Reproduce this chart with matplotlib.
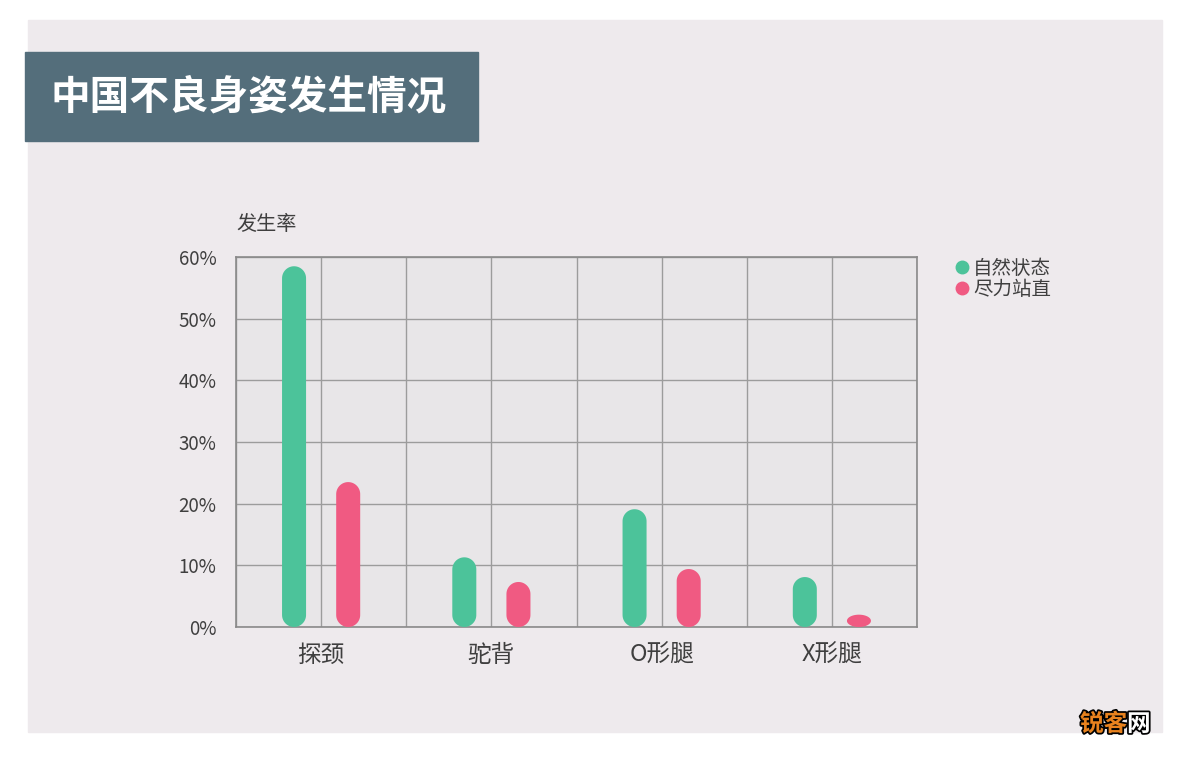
import matplotlib.pyplot as plt
import matplotlib.patheffects as pe
from matplotlib.patches import Rectangle, Polygon
from matplotlib.lines import Line2D
import numpy as np

plt.rcParams['font.family'] = ['Noto Sans CJK SC', 'DejaVu Sans']

# data
categories = ["探颈", "驼背", "O形腿", "X形腿"]
natural = [58.5, 11.3, 19.1, 8.1]      # 自然状态
standing = [23.5, 7.3, 9.4, 2.0]       # 尽力站直
series_names = ["自然状态", "尽力站直"]
y_ticks = [0, 10, 20, 30, 40, 50, 60]

green = "#4cc39a"
pink = "#f05a82"
txt = "#3f3f3f"

W, H = 1200, 757
fig = plt.figure(figsize=(W / 100, H / 100), dpi=100)
fig.patch.set_facecolor("white")

# light panel and title box (pixel coords -> figure coords)
def px(x0, y0, x1, y1):
    return (x0 / W, 1 - y1 / H), (x1 - x0) / W, (y1 - y0) / H

xy, w, h = px(28, 20, 1162, 732)
fig.patches.append(Rectangle(xy, w, h, transform=fig.transFigure, color="#eeeaed", zorder=0))
xy, w, h = px(25, 52, 478, 141)
fig.patches.append(Rectangle(xy, w, h, transform=fig.transFigure, color="#546e7b", zorder=1))
fig.text(50 / W, 1 - 97 / H, "中国不良身姿发生情况", color="white", fontsize=28.5,
         fontweight="heavy", va="center", ha="left", zorder=3)

# plot area
ax_l, ax_t, ax_r, ax_b = 236, 257, 917, 627
ax = fig.add_axes([ax_l / W, 1 - ax_b / H, (ax_r - ax_l) / W, (ax_b - ax_t) / H])
ax.set_zorder(5)
ax.set_facecolor("#e8e6e8")
ax.set_xlim(-0.5, len(categories) - 0.5)
ax.set_ylim(0, 60)

x = np.arange(len(categories))
ax.set_xticks(x)
ax.set_xticklabels(categories, fontsize=17, color=txt, fontweight="medium")
ax.set_xticks(np.arange(-0.5, len(categories), 1.0), minor=True)
ax.set_yticks(y_ticks)
ax.set_yticklabels(["{}%".format(v) for v in y_ticks], fontsize=13.5, color=txt,
                   fontweight="medium")
ax.tick_params(axis="both", which="both", length=0)
ax.tick_params(axis="x", pad=12)
ax.tick_params(axis="y", pad=14)
ax.grid(True, which="both", color="#9c9c9c", linewidth=1)
ax.set_axisbelow(True)
for s in ax.spines.values():
    s.set_color("#8a8a8a")
    s.set_linewidth(1.2)

# rounded (capsule) bars
xpp = (len(categories)) / (ax_r - ax_l)   # data units per pixel, x
ypp = 60 / (ax_b - ax_t)                  # data units per pixel, y
aspect = ypp / xpp
bar_w = 0.141
offset = 0.159

def capsule(xc, val, color):
    rx = bar_w / 2
    ry = min(rx * aspect, val / 2)
    t1 = np.linspace(0, np.pi, 40)
    t2 = np.linspace(np.pi, 2 * np.pi, 40)
    top = np.column_stack([xc + rx * np.cos(t1), val - ry + ry * np.sin(t1)])
    bot = np.column_stack([xc + rx * np.cos(t2), ry + ry * np.sin(t2)])
    ax.add_patch(Polygon(np.vstack([top, bot]), closed=True, facecolor=color,
                         edgecolor="none", zorder=3))

for i in range(len(categories)):
    capsule(x[i] - offset, natural[i], green)
    capsule(x[i] + offset, standing[i], pink)

fig.text(236 / W, 1 - 224 / H, "发生率", fontsize=14.5, color=txt, va="center", ha="left",
         fontweight="medium")

handles = [Line2D([], [], marker="o", linestyle="none", markersize=9, color=green),
           Line2D([], [], marker="o", linestyle="none", markersize=9, color=pink)]
fig.legend(handles, series_names, loc="upper left", bbox_to_anchor=(943 / W, 1 - 248 / H),
           frameon=False, fontsize=14, handletextpad=0.05, labelspacing=0.0,
           handlelength=1.0, borderpad=0, labelcolor=txt)

# watermark
fig.text(1080 / W, 1 - 724 / H, "锐客", fontsize=17, color="#e8821e", va="center", ha="left",
         fontweight="bold", path_effects=[pe.withStroke(linewidth=2.5, foreground="black")])
fig.text(1127 / W, 1 - 724 / H, "网", fontsize=17, color="white", va="center", ha="left",
         fontweight="bold", path_effects=[pe.withStroke(linewidth=2.5, foreground="black")])

fig.savefig("out.png", dpi=100, facecolor=fig.get_facecolor())
